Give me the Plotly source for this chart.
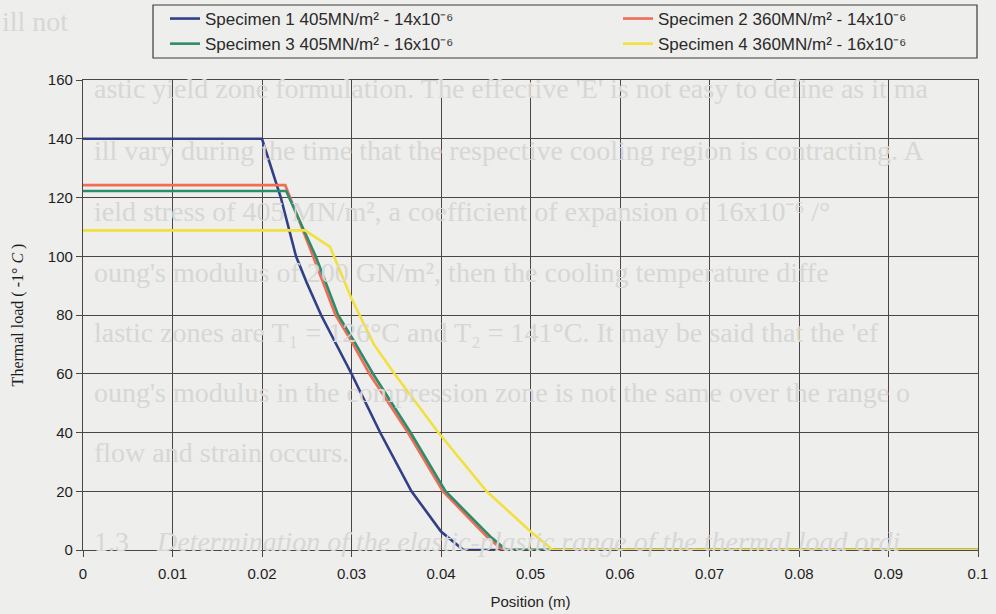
import plotly.graph_objects as go

# ---------------- data ----------------
x_tick_vals = [0, 0.01, 0.02, 0.03, 0.04, 0.05, 0.06, 0.07, 0.08, 0.09, 0.1]
x_tick_text = ["0", "0.01", "0.02", "0.03", "0.04", "0.05", "0.06", "0.07", "0.08", "0.09", "0.1"]
y_tick_vals = [0, 20, 40, 60, 80, 100, 120, 140, 160]

names = [
    "Specimen 1 405MN/m² - 14x10⁻⁶",
    "Specimen 2 360MN/m² - 14x10⁻⁶",
    "Specimen 3 405MN/m² - 16x10⁻⁶",
    "Specimen 4 360MN/m² - 16x10⁻⁶",
]

s1_x = [0, 0.0200, 0.0221, 0.0238, 0.0250, 0.0266, 0.0300, 0.0332, 0.0367, 0.0400, 0.0425, 0.1]
s1_y = [140, 140, 120, 100, 91, 80, 60, 40, 20, 6.3, 0, 0]

s2_x = [0, 0.0226, 0.0257, 0.0282, 0.0300, 0.0320, 0.0363, 0.0402, 0.0451, 0.0469, 0.1]
s2_y = [124.2, 124.2, 100, 80, 71, 60, 40, 20, 4.6, 0, 0]

s3_x = [0, 0.0227, 0.0260, 0.0285, 0.0303, 0.0324, 0.0366, 0.0405, 0.0455, 0.0473, 0.1]
s3_y = [122.2, 122.2, 100, 80, 71, 60, 40, 20, 4.6, 0, 0]

s4_x = [0, 0.0248, 0.0276, 0.0300, 0.0325, 0.0348, 0.0397, 0.0451, 0.0500, 0.0525, 0.1]
s4_y = [108.8, 108.8, 103.2, 85.6, 70, 60, 40, 20, 6.3, 0, 0]

colors = ["#303f88", "#f06c55", "#2c8c6c", "#f2e03e"]

# faint show-through text of the scanned page behind the chart
page_lines = [
    "ill not",
    "astic yield zone formulation. The effective 'E' is not easy to define as it ma",
    "ill vary during the time that the respective cooling region is contracting. A",
    "ield stress of 405 MN/m², a coefficient of expansion of 16x10⁻⁶ /°",
    "oung's modulus of 200 GN/m², then the cooling temperature diffe",
    "lastic zones are T₁ = 126°C and T₂ = 141°C. It may be said that the 'ef",
    "oung's modulus in the compression zone is not the same over the range o",
    "flow and strain occurs.",
    "1.3    <i>Determination of the elastic-plastic range of the thermal load ordi</i>",
]

# ---------------- layout helpers ----------------
W, H = 996, 614
ML, MR, MT, MB = 83, 18, 80, 64
PW, PH = W - ML - MR, H - MT - MB


def px_x(p):
    return (p - ML) / PW


def px_y(p):
    return (H - MB - p) / PH


grid_col = "#4d4545"
text_col = "#1e1e1e"
bg_col = "#eeeeec"

fig = go.Figure()

series = [(s1_x, s1_y), (s2_x, s2_y), (s3_x, s3_y), (s4_x, s4_y)]
legend_of = ["legend", "legend2", "legend", "legend2"]
for (xs, ys), nm, col, lg in zip(series, names, colors, legend_of):
    fig.add_trace(go.Scatter(
        x=xs, y=ys, mode="lines", name=nm,
        line=dict(color=col, width=2.6),
        legend=lg,
    ))

page_y = [22, 88, 150, 212, 272, 332, 392, 452, 541]
page_x = [0, 92, 92, 92, 92, 92, 92, 92, 92]
annotations = []
for txt, yy, xx in zip(page_lines, page_y, page_x):
    annotations.append(dict(
        text=txt, xref="paper", yref="paper",
        x=px_x(xx), y=px_y(yy),
        xanchor="left", yanchor="middle", showarrow=False,
        font=dict(family="Liberation Serif, Times New Roman, serif", size=28, color="#d7d7d5"),
    ))

fig.update_layout(
    width=W, height=H,
    margin=dict(l=ML, r=MR, t=MT, b=MB, autoexpand=False),
    paper_bgcolor=bg_col,
    plot_bgcolor="rgba(0,0,0,0)",
    font=dict(family="Liberation Sans, Arial, sans-serif", size=15, color=text_col),
    annotations=annotations,
    shapes=[dict(
        type="rect", xref="paper", yref="paper",
        x0=px_x(153), x1=px_x(977), y0=px_y(58), y1=px_y(5),
        line=dict(color="#3a3a3a", width=1.2), fillcolor="rgba(0,0,0,0)",
    )],
    legend=dict(
        x=px_x(165), y=px_y(1), xanchor="left", yanchor="top",
        orientation="v", bgcolor="rgba(0,0,0,0)", borderwidth=0,
        font=dict(size=17, color="#2a2a2a"), tracegroupgap=0,
    ),
    legend2=dict(
        x=px_x(618), y=px_y(1), xanchor="left", yanchor="top",
        orientation="v", bgcolor="rgba(0,0,0,0)", borderwidth=0,
        font=dict(size=17, color="#2a2a2a"), tracegroupgap=0,
    ),
    xaxis=dict(
        range=[0, 0.1], tickvals=x_tick_vals, ticktext=x_tick_text,
        showgrid=True, gridcolor=grid_col, gridwidth=1,
        zeroline=False, showline=True, linecolor=grid_col, linewidth=1.3,
        mirror=True, ticks="outside", ticklen=6, tickcolor=grid_col,
        ticklabelstandoff=4,
        title=dict(text="Position (m)", standoff=15,
                   font=dict(family="Liberation Sans, Arial, sans-serif", size=15)),
        tickfont=dict(size=15),
    ),
    yaxis=dict(
        range=[0, 160], tickvals=y_tick_vals,
        showgrid=True, gridcolor=grid_col, gridwidth=1,
        zeroline=False, showline=True, linecolor=grid_col, linewidth=1.3,
        mirror=True, ticks="outside", ticklen=6, tickcolor=grid_col,
        title=dict(text="Thermal load ( -1° <i>C</i> )", standoff=20,
                   font=dict(family="Liberation Serif, Times New Roman, serif", size=16)),
        tickfont=dict(size=15),
    ),
)

fig.write_html(
    "out.html",
    config={"displayModeBar": False},
    post_script="document.body.style.margin='0';document.body.style.background='%s';" % bg_col,
)
